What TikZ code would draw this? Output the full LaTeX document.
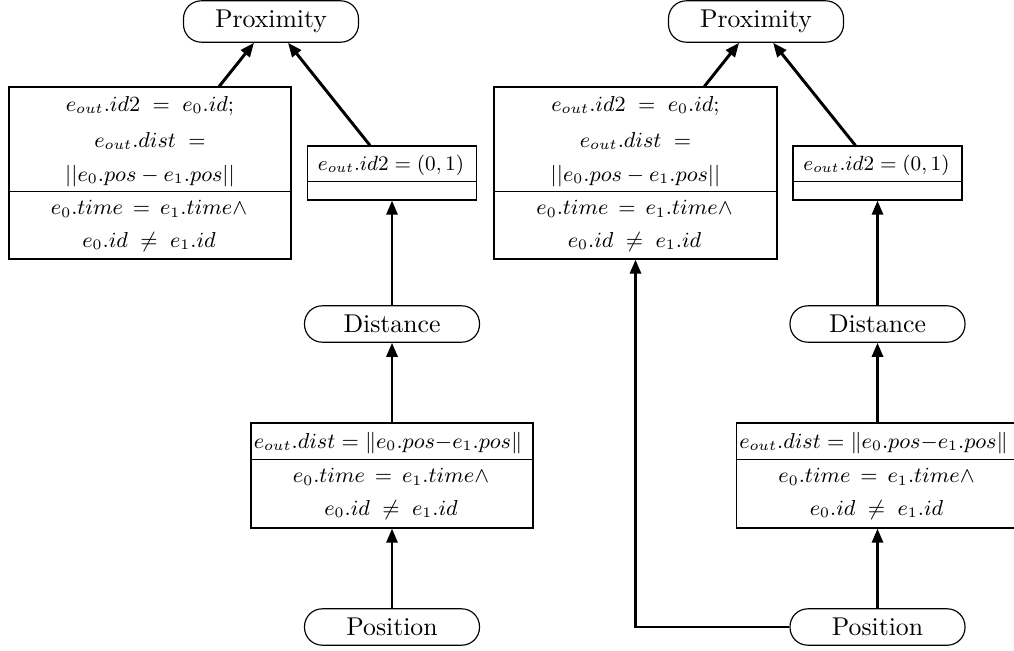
\documentclass[tikz,border=0pt]{standalone}
\usetikzlibrary{arrows.meta,calc}
\newcommand\pxu{0.3888pt}
\begin{document}
\begin{tikzpicture}[x=0.3888pt,y=-0.3888pt,
  term/.style={draw, line width=0.45pt, rectangle, rounded corners=6.9pt,
    minimum width=175*\pxu, inner xsep=3.33pt, inner ysep=3.6pt},
  opbox/.style={draw, line width=0.45pt, rectangle, inner sep=0pt},
  divider/.style={line width=0.45pt},
  txt/.style={inner sep=0pt, font=\small, scale=0.935},
  smalltxt/.style={inner sep=0pt, font=\small, scale=0.89},
  flow/.style={line width=1.15pt, -{Triangle[length=5.5pt,width=4.3pt]}}]
\useasboundingbox (0,0) rectangle (1014,650);

% source, intermediate and result streams
\node[term] (prox1) at (271,21.5) {Proximity};
\node[term] (prox2) at (756,21.5) {Proximity};
\node[term] (dist1) at (392,324) {Distance};
\node[term] (dist2) at (877.5,324) {Distance};
\node[term] (pos1) at (392,627) {Position};
\node[term] (pos2) at (877.5,627) {Position};

% join operators producing Proximity
\node[opbox, minimum width=282*\pxu, minimum height=172*\pxu] (join1) at (150,173) {};
\node[opbox, minimum width=283*\pxu, minimum height=172*\pxu] (join2) at (635.5,173) {};
\foreach \j in {join1,join2}
  \draw[divider] ($(\j.north west)+(0,105)$) -- ($(\j.north east)+(0,105)$);

\node[txt] (j1a) at (150,106) {$e_{out}.id2\;=\;e_0.id;$};
\node[txt] (j1b) at (150,141) {$e_{out}.dist\;=$};
\node[txt] (j1c) at (150,176) {$||e_0.pos - e_1.pos||$};
\node[txt] (j1d) at (149,209) {$e_0.time\,=\,e_1.time\wedge$};
\node[txt] (j1e) at (149,242) {$e_0.id\;\neq\;e_1.id$};

\node[txt] (j2a) at (635.5,106) {$e_{out}.id2\;=\;e_0.id;$};
\node[txt] (j2b) at (635.5,141) {$e_{out}.dist\;=$};
\node[txt] (j2c) at (635.5,176) {$||e_0.pos - e_1.pos||$};
\node[txt] (j2d) at (634.5,209) {$e_0.time\,=\,e_1.time\wedge$};
\node[txt] (j2e) at (634.5,242) {$e_0.id\;\neq\;e_1.id$};

% map operators setting the id
\node[opbox, minimum width=169*\pxu, minimum height=54*\pxu] (ids1) at (392,173) {};
\node[opbox, minimum width=169*\pxu, minimum height=54*\pxu] (ids2) at (877.5,173) {};
\foreach \j in {ids1,ids2}
  \draw[divider] ($(\j.north west)+(0,36)$) -- ($(\j.north east)+(0,36)$);
\node[smalltxt] (i1a) at (391,165) {$e_{out}.id2 = (0,1)$};
\node[smalltxt] (i2a) at (876.5,165) {$e_{out}.id2 = (0,1)$};

% join operators computing the distance
\node[opbox, minimum width=282*\pxu, minimum height=105*\pxu] (calc1) at (392,475.5) {};
\node[opbox, minimum width=282*\pxu, minimum height=105*\pxu] (calc2) at (877.5,475.5) {};
\foreach \j in {calc1,calc2}
  \draw[divider] ($(\j.north west)+(0,37)$) -- ($(\j.north east)+(0,37)$);

\node[txt] (c1a) at (388,443) {$e_{out}.dist = \|e_0.pos{-}e_1.pos\|$};
\node[txt] (c1b) at (391,477) {$e_0.time\,=\,e_1.time\wedge$};
\node[txt] (c1c) at (391,510) {$e_0.id\;\neq\;e_1.id$};
\node[txt] (c2a) at (873.5,443) {$e_{out}.dist = \|e_0.pos{-}e_1.pos\|$};
\node[txt] (c2b) at (876.5,477) {$e_0.time\,=\,e_1.time\wedge$};
\node[txt] (c2c) at (876.5,510) {$e_0.id\;\neq\;e_1.id$};

% data flow
\draw[flow] (join1) -- (prox1);
\draw[flow] (ids1) -- (prox1);
\draw[flow] (dist1) -- (ids1);
\draw[flow] (calc1) -- (dist1);
\draw[flow] (pos1) -- (calc1);

\draw[flow] (join2) -- (prox2);
\draw[flow] (ids2) -- (prox2);
\draw[flow] (dist2) -- (ids2);
\draw[flow] (calc2) -- (dist2);
\draw[flow] (pos2) -- (calc2);
\draw[flow] (pos2.west) -| (join2.south);
\end{tikzpicture}
\end{document}
